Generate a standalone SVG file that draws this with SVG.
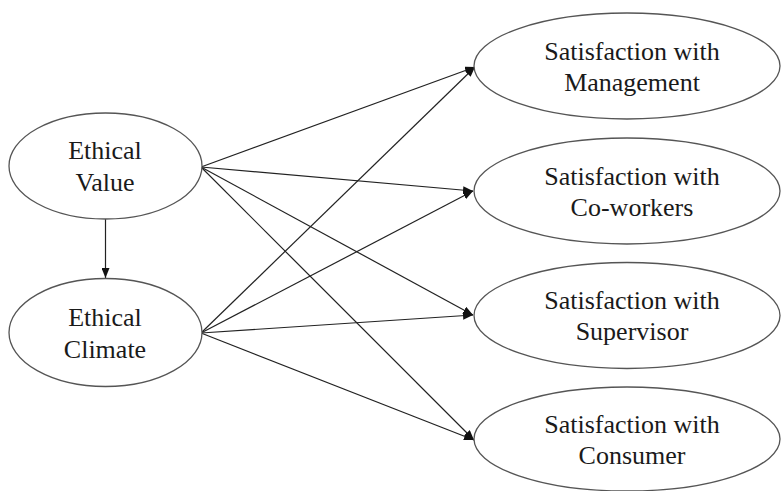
<svg xmlns="http://www.w3.org/2000/svg" width="781" height="491" viewBox="0 0 781 491">
<defs>
<marker id="arr" viewBox="0 0 10 8" refX="10" refY="4" markerWidth="10" markerHeight="8" markerUnits="userSpaceOnUse" orient="auto">
<path d="M0,0 L10,4 L0,8 Z" fill="#111"/>
</marker>
<style>
.n ellipse{fill:#fff;stroke:#555;stroke-width:1.3}
.n text{font-family:"Liberation Serif","Times New Roman",serif;font-size:26px;fill:#1a1a1a;text-anchor:middle}
.e line{stroke:#222;stroke-width:1.2;marker-end:url(#arr)}
</style>
</defs>
<rect width="781" height="491" fill="#fff"/>
<g id="edges" class="e">
<line x1="105.5" y1="219" x2="105.5" y2="278"/>
<line x1="201" y1="167" x2="475" y2="67"/>
<line x1="201" y1="167" x2="473" y2="191"/>
<line x1="201" y1="167" x2="473" y2="315"/>
<line x1="201" y1="167" x2="474" y2="440"/>
<line x1="201" y1="333" x2="475" y2="67"/>
<line x1="201" y1="333" x2="473" y2="191"/>
<line x1="201" y1="333" x2="473" y2="315"/>
<line x1="201" y1="333" x2="474" y2="440"/>
</g>
<g id="ethical-value" class="n">
<ellipse cx="105.5" cy="166" rx="96.5" ry="53"/>
<text x="105" y="159">Ethical</text>
<text x="105" y="191">Value</text>
</g>
<g id="ethical-climate" class="n">
<ellipse cx="105.5" cy="332.5" rx="96.5" ry="54"/>
<text x="105" y="326">Ethical</text>
<text x="105" y="358">Climate</text>
</g>
<g id="sat-management" class="n">
<ellipse cx="627" cy="66" rx="153" ry="53"/>
<text x="632" y="60">Satisfaction with</text>
<text x="632" y="91">Management</text>
</g>
<g id="sat-coworkers" class="n">
<ellipse cx="627" cy="191" rx="153" ry="53"/>
<text x="632" y="185">Satisfaction with</text>
<text x="632" y="216">Co-workers</text>
</g>
<g id="sat-supervisor" class="n">
<ellipse cx="627" cy="315.5" rx="153" ry="53"/>
<text x="632" y="309">Satisfaction with</text>
<text x="632" y="340">Supervisor</text>
</g>
<g id="sat-consumer" class="n">
<ellipse cx="627" cy="439" rx="153" ry="52"/>
<text x="632" y="433">Satisfaction with</text>
<text x="632" y="464">Consumer</text>
</g>
</svg>
